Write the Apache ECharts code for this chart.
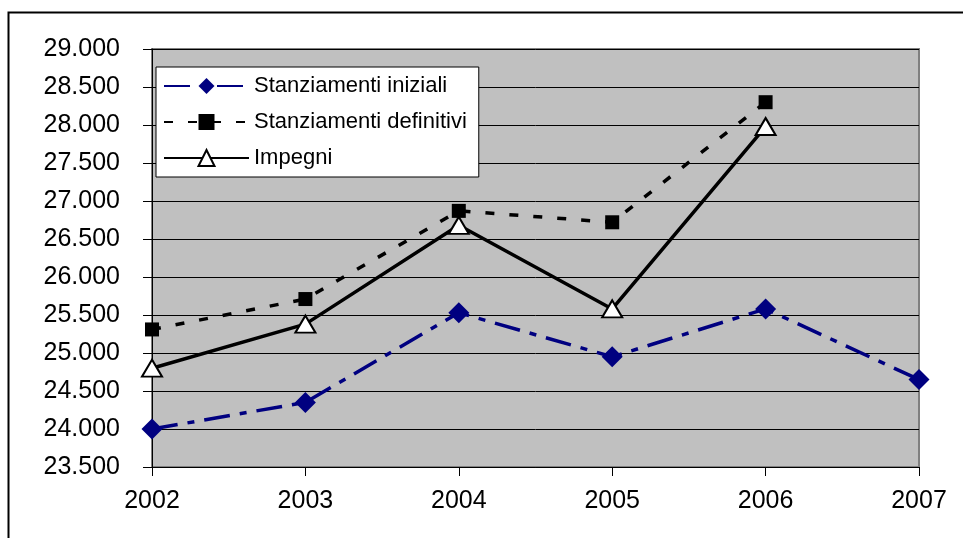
<!DOCTYPE html>
<html>
<head>
<meta charset="utf-8">
<script src="https://cdn.jsdelivr.net/npm/echarts@6/dist/echarts.min.js"></script>
<style>
html,body{margin:0;padding:0;background:#fff;}
#c{width:963px;height:538px;}
</style>
</head>
<body>
<div id="c"></div>
<script>
var years = ['2002','2003','2004','2005','2006','2007'];
var stanziamentiIniziali = [24000, 24350, 25530, 24950, 25580, 24650];
var stanziamentiDefinitivi = [25310, 25710, 26870, 26720, 28300, null];
var impegni = [24800, 25380, 26680, 25580, 27980, null];
var seriesNames = ['Stanziamenti iniziali', 'Stanziamenti definitivi', 'Impegni'];

var FONT = '"Liberation Sans", Arial, sans-serif';
var chart = echarts.init(document.getElementById('c'), null, {renderer: 'canvas'});
chart.setOption({
  animation: false,
  backgroundColor: '#ffffff',
  textStyle: {fontFamily: FONT},
  graphic: [{
    type: 'rect', left: 6, top: 10, z: -10,
    shape: {width: 980, height: 600},
    style: {fill: null, stroke: '#000', lineWidth: 2}
  }],
  grid: {
    left: 152, right: 44, top: 49, bottom: 71,
    show: true, backgroundColor: '#C0C0C0', borderColor: '#808080', borderWidth: 2
  },
  legend: {
    orient: 'vertical', left: 156, top: 67,
    backgroundColor: '#fff', borderColor: '#000', borderWidth: 1,
    padding: [8, 12, 8, 7],
    itemGap: 14, itemWidth: 85, itemHeight: 20,
    textStyle: {fontFamily: FONT, fontSize: 22, color: '#000'},
    data: seriesNames
  },
  xAxis: {
    type: 'category', data: years, boundaryGap: false,
    axisLine: {lineStyle: {color: '#000', width: 1}},
    axisTick: {show: true, length: 9, lineStyle: {color: '#000'}},
    axisLabel: {color: '#000', fontSize: 25, fontFamily: FONT, margin: 22},
    splitLine: {show: false}
  },
  yAxis: {
    type: 'value', min: 23500, max: 29000, interval: 500,
    axisLine: {show: true, lineStyle: {color: '#000', width: 1}},
    axisTick: {show: true, length: 9, lineStyle: {color: '#000'}},
    axisLabel: {
      color: '#000', fontSize: 25, fontFamily: FONT, margin: 32,
      formatter: function (v) { return String(v).replace(/\B(?=(\d{3})+(?!\d))/g, '.'); }
    },
    splitLine: {show: true, lineStyle: {color: '#000', width: 1}}
  },
  series: [
    {
      name: seriesNames[0], type: 'line', data: stanziamentiIniziali,
      symbol: 'diamond', symbolSize: 21, showAllSymbol: true,
      itemStyle: {color: '#000080'},
      lineStyle: {color: '#000080', width: 3.5, type: [26, 10, 7, 10]},
      z: 3
    },
    {
      name: seriesNames[1], type: 'line', data: stanziamentiDefinitivi,
      symbol: 'rect', symbolSize: 14, showAllSymbol: true,
      itemStyle: {color: '#000'},
      lineStyle: {color: '#000', width: 3.5, type: [9, 15]},
      z: 4
    },
    {
      name: seriesNames[2], type: 'line', data: impegni,
      symbol: 'triangle', symbolSize: [20, 17], showAllSymbol: true,
      itemStyle: {color: '#fff', borderColor: '#000', borderWidth: 2},
      lineStyle: {color: '#000', width: 3.5, type: 'solid'},
      z: 5
    }
  ]
});
</script>
</body>
</html>
